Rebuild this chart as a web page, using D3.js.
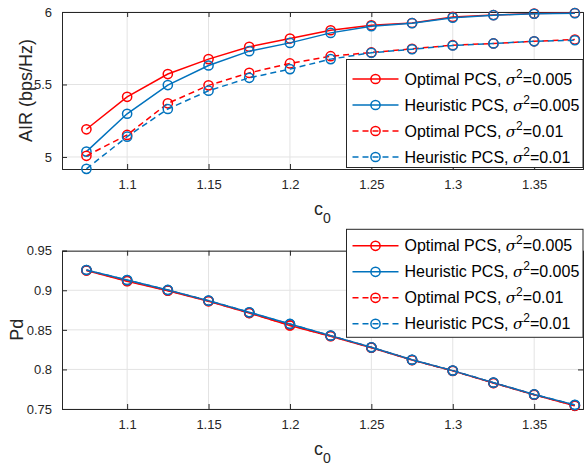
<!DOCTYPE html>
<html><head><meta charset="utf-8">
<script src="https://cdn.jsdelivr.net/npm/d3@7"></script>
<style>body{margin:0;background:#fff}svg{display:block}</style>
</head><body><svg id="c" width="584" height="465"></svg>
<script>
// ---- data ----
const c0 = [1.075, 1.1, 1.125, 1.15, 1.175, 1.2, 1.225, 1.25, 1.275, 1.3, 1.325, 1.35, 1.375];
const xTicks = [1.1, 1.15, 1.2, 1.25, 1.3, 1.35];
const airTicks = [5, 5.5, 6];
const pdTicks = [0.75, 0.8, 0.85, 0.9, 0.95];

const airOpt005 = [5.191, 5.415, 5.572, 5.675, 5.760, 5.817, 5.874, 5.908, 5.924, 5.966, 5.979, 5.989, 5.993];
const airHeu005 = [5.037, 5.298, 5.496, 5.631, 5.730, 5.787, 5.856, 5.902, 5.923, 5.961, 5.978, 5.988, 5.992];
const airOpt01  = [5.008, 5.152, 5.370, 5.494, 5.580, 5.645, 5.695, 5.721, 5.746, 5.771, 5.783, 5.798, 5.810];
const airHeu01  = [4.918, 5.140, 5.331, 5.457, 5.546, 5.606, 5.675, 5.719, 5.743, 5.769, 5.783, 5.798, 5.805];

const pdOpt005 = [0.9250, 0.9115, 0.8995, 0.8862, 0.8712, 0.8555, 0.8420, 0.8275, 0.8118, 0.7982, 0.7828, 0.7680, 0.7540];
const pdHeu005 = [0.9256, 0.9130, 0.9004, 0.8869, 0.8722, 0.8575, 0.8427, 0.8280, 0.8122, 0.7985, 0.7833, 0.7684, 0.7552];
const pdOpt01  = [0.9252, 0.9118, 0.8998, 0.8864, 0.8714, 0.8558, 0.8422, 0.8277, 0.8119, 0.7983, 0.7829, 0.7681, 0.7542];
const pdHeu01  = [0.9256, 0.9128, 0.9003, 0.8868, 0.8721, 0.8573, 0.8426, 0.8279, 0.8121, 0.7985, 0.7832, 0.7684, 0.7550];

const seriesNames = ["Optimal PCS", "Heuristic PCS", "Optimal PCS", "Heuristic PCS"];
const sigmaVals = ["0.005", "0.005", "0.01", "0.01"];

// ---- styles ----
const colors = ["#ff0000", "#0072bd", "#ff0000", "#0072bd"];
const dashes = [null, null, "6,4", "6,4"];
const FONT = "'Liberation Sans', Arial, Helvetica, sans-serif";
const AX = "#262626";
const GRID = "#e3e3e3";

const svg = d3.select("#c").style("font-family", FONT);
const x = d3.scaleLinear().domain([1.06, 1.38]).range([62, 583]);

function panel(cfg) {
  const y = d3.scaleLinear().domain(cfg.yDomain).range([cfg.bottom, cfg.top]);
  const g = svg.append("g");
  // grid
  g.append("g").selectAll("line").data(xTicks).join("line")
    .attr("x1", d => x(d)).attr("x2", d => x(d)).attr("y1", cfg.top).attr("y2", cfg.bottom)
    .attr("stroke", GRID).attr("stroke-width", 1);
  g.append("g").selectAll("line").data(cfg.yTicks).join("line")
    .attr("x1", x.range()[0]).attr("x2", x.range()[1]).attr("y1", d => y(d)).attr("y2", d => y(d))
    .attr("stroke", GRID).attr("stroke-width", 1);

  // axes
  const fmt = d => d3.format("")(+d.toFixed(3));
  const axB = g.append("g").attr("transform", `translate(0,${cfg.bottom})`)
    .call(d3.axisBottom(x).tickValues(xTicks).tickSize(-5).tickPadding(15).tickFormat(fmt));
  const axT = g.append("g").attr("transform", `translate(0,${cfg.top})`)
    .call(d3.axisTop(x).tickValues(xTicks).tickSize(-5).tickFormat(""));
  const axL = g.append("g").attr("transform", `translate(${x.range()[0]},0)`)
    .call(d3.axisLeft(y).tickValues(cfg.yTicks).tickSize(-5).tickPadding(10).tickFormat(fmt));
  const axR = g.append("g").attr("transform", `translate(${x.range()[1]},0)`)
    .call(d3.axisRight(y).tickValues(cfg.yTicks).tickSize(-5).tickFormat(""));
  [axB, axT, axL, axR].forEach(a => {
    a.select(".domain").attr("stroke", AX).attr("stroke-width", 1);
    a.selectAll(".tick line").attr("stroke", AX).attr("stroke-width", 1);
    a.selectAll(".tick text").attr("fill", AX).attr("font-size", 13).attr("font-family", FONT);
  });
  axB.selectAll(".tick text").attr("dy", "0.71em").attr("y", 11);

  // series
  cfg.series.forEach((vals, i) => {
    const pts = vals.map((v, j) => [c0[j], v]);
    g.append("path").datum(pts)
      .attr("d", d3.line().x(d => x(d[0])).y(d => y(d[1])))
      .attr("fill", "none").attr("stroke", colors[i]).attr("stroke-width", 1.5)
      .attr("stroke-dasharray", dashes[i]);
    g.append("g").selectAll("circle").data(pts).join("circle")
      .attr("cx", d => x(d[0])).attr("cy", d => y(d[1])).attr("r", 4.6)
      .attr("fill", "none").attr("stroke", colors[i]).attr("stroke-width", 1.5);
  });

  // y label
  g.append("text").attr("transform", `translate(${cfg.ylabelX},${(cfg.top + cfg.bottom) / 2}) rotate(-90)`)
    .attr("text-anchor", "middle").attr("font-size", 18).attr("fill", AX).text(cfg.ylabel);

  // x label c_0
  const xl = g.append("text").attr("x", 314).attr("y", cfg.bottom + 46).attr("font-size", 18).attr("fill", AX);
  xl.append("tspan").text("c");
  xl.append("tspan").attr("font-size", 14).attr("dy", 8).text("0");

  // legend
  const lg = g.append("g").attr("transform", `translate(346.5,${cfg.legTop})`);
  lg.append("rect").attr("width", 236.5).attr("height", 108).attr("fill", "#fff")
    .attr("stroke", AX).attr("stroke-width", 1);
  seriesNames.forEach((nm, i) => {
    const ry = cfg.legRow0 + i * 26;
    lg.append("line").attr("x1", 6).attr("x2", 52).attr("y1", ry).attr("y2", ry)
      .attr("stroke", colors[i]).attr("stroke-width", 1.5).attr("stroke-dasharray", dashes[i]);
    lg.append("circle").attr("cx", 29).attr("cy", ry).attr("r", 4.6)
      .attr("fill", "none").attr("stroke", colors[i]).attr("stroke-width", 1.5);
    const t = lg.append("text").attr("x", 58).attr("y", ry + 5.5).attr("font-size", 16).attr("fill", "#000");
    t.append("tspan").text(nm + ", ");
    t.append("tspan").attr("font-style", "italic").attr("font-family", "'DejaVu Serif', 'Liberation Serif', serif").attr("font-size", 15).text("σ");
    t.append("tspan").attr("font-size", 12).attr("dy", -7).text("2");
    t.append("tspan").attr("dy", 7).text("=" + sigmaVals[i]);
  });
}

panel({
  top: 12, bottom: 169, yDomain: [4.917, 6], yTicks: airTicks,
  series: [airOpt005, airHeu005, airOpt01, airHeu01],
  ylabel: "AIR (bps/Hz)", ylabelX: 32, legTop: 59.5, legRow0: 19.5
});
panel({
  top: 250.7, bottom: 409, yDomain: [0.75, 0.95], yTicks: pdTicks,
  series: [pdOpt005, pdHeu005, pdOpt01, pdHeu01],
  ylabel: "Pd", ylabelX: 23, legTop: 229.3, legRow0: 16.5
});
</script>
</body></html>
